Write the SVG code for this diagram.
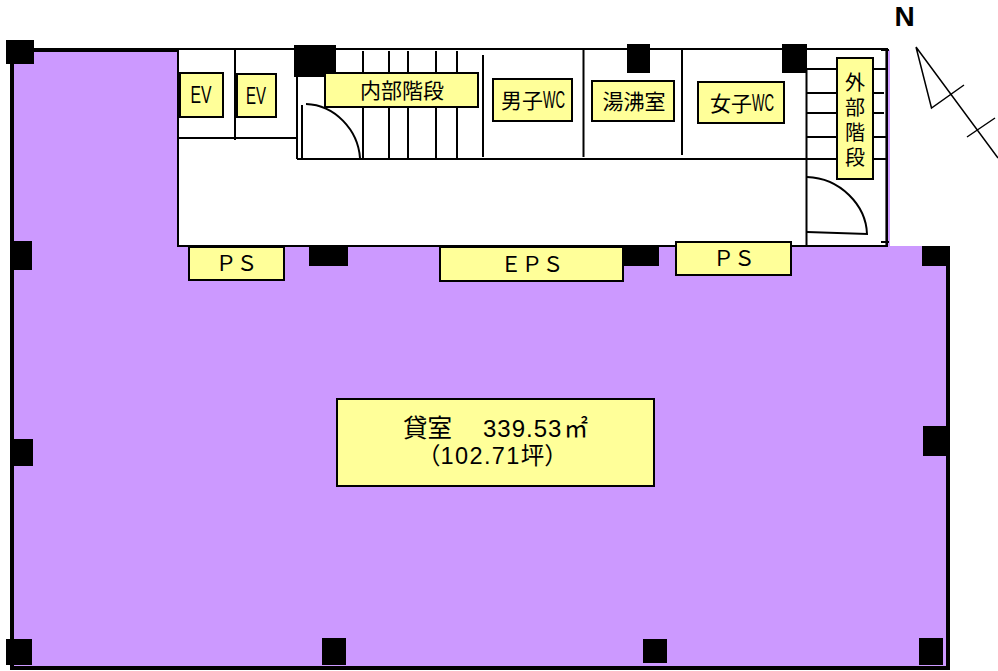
<svg xmlns="http://www.w3.org/2000/svg" width="998" height="671" viewBox="0 0 998 671">
<style>
.ln{fill:none;stroke:#000;stroke-width:2}
.th{fill:none;stroke:#000;stroke-width:1.5}
.col{fill:#000}
.lab{fill:#ffff99;stroke:#000;stroke-width:2}
text{font-family:"Liberation Sans","Noto Sans CJK JP",sans-serif;fill:#000;text-anchor:middle}
.s{text-anchor:start}
</style>
<rect width="998" height="671" fill="#fff"/>
<g id="floor">
<path d="M12 50H178V246H948V668H12Z" fill="#cc99ff"/>
<path d="M178 50H12V668H948V246" fill="none" stroke="#000" stroke-width="4"/>
<rect x="178" y="50" width="710" height="196" fill="#fff"/>
<path d="M889 50V246" stroke="#cc99ff" stroke-width="2"/>
</g>
<g id="connectors">
<path class="ln" d="M178 49H887V246H178Z"/>
<path d="M886.7 50V246" stroke="#000" stroke-width="2.6"/>
<path class="ln" d="M297 159H887M806.5 70V246M297 60V159M178 138H298M235 50V140M302 105V159"/>
<path class="ln" d="M363 51V159M389 51V159M408 51V159M436 51V159M457 51V159M483 55V157M583.5 50V157M682 50V155"/>
<path class="ln" d="M807 69H886M807 93H884M807 113H884M807 137H886"/>
<path class="ln" d="M306 104C335 105 358 130 360 158"/>
<path class="ln" d="M807 177C840 178 866 205 867 234L807 232"/>
<path class="ln" d="M881 50H889M881 242H889"/>
<path class="th" d="M916 47L998 158M916 47L931.5 108L964 85M967 137L995 118"/>
</g>
<g id="columns">
<rect class="col" x="6" y="40" width="28" height="24"/>
<rect class="col" x="10" y="241" width="22" height="29"/>
<rect class="col" x="10" y="439" width="23" height="27"/>
<rect class="col" x="6" y="639" width="26" height="26"/>
<rect class="col" x="322" y="638" width="24" height="27"/>
<rect class="col" x="643" y="639" width="24" height="24"/>
<rect class="col" x="919" y="638" width="24" height="27"/>
<rect class="col" x="923" y="426" width="25" height="30"/>
<rect class="col" x="922" y="246" width="27" height="20"/>
<rect class="col" x="294" y="45" width="42" height="32"/>
<rect class="col" x="309" y="246" width="39" height="20"/>
<rect class="col" x="623" y="246" width="36" height="20"/>
<rect class="col" x="627" y="44" width="23" height="29"/>
<rect class="col" x="782" y="44" width="25" height="29"/>
</g>
<g id="ev1"><rect class="lab" x="180" y="73" width="43" height="44"/><text x="201" y="103" font-size="24" textLength="21" lengthAdjust="spacingAndGlyphs">EV</text></g>
<g id="ev2"><rect class="lab" x="237" y="74" width="39" height="43"/><text x="256" y="104" font-size="24" textLength="20" lengthAdjust="spacingAndGlyphs">EV</text></g>
<g id="stairs-in"><rect class="lab" x="325" y="73" width="153" height="34"/><text x="402" y="98" font-size="21">内部階段</text></g>
<g id="wc-m"><rect class="lab" x="493" y="79" width="79" height="42"/><text class="s" x="501" y="108" font-size="21">男子<tspan font-size="24" textLength="22" lengthAdjust="spacingAndGlyphs">WC</tspan></text></g>
<g id="yu"><rect class="lab" x="592" y="81" width="82" height="40"/><text x="634" y="109" font-size="21">湯沸室</text></g>
<g id="wc-f"><rect class="lab" x="698" y="82" width="86" height="41"/><text class="s" x="710" y="111" font-size="21">女子<tspan font-size="24" textLength="22" lengthAdjust="spacingAndGlyphs">WC</tspan></text></g>
<g id="stairs-out"><rect class="lab" x="837" y="58" width="36" height="121"/>
<text x="855" y="90" font-size="20">外</text><text x="855" y="115" font-size="20">部</text><text x="855" y="140" font-size="20">階</text><text x="855" y="165" font-size="20">段</text></g>
<g id="ps1"><rect class="lab" x="189" y="247" width="95" height="33"/><text x="236.5" y="271" font-size="21">ＰＳ</text></g>
<g id="eps"><rect class="lab" x="440" y="247" width="183" height="34"/><text x="532" y="272" font-size="21">ＥＰＳ</text></g>
<g id="ps2"><rect class="lab" x="676" y="242" width="115" height="33"/><text x="734" y="266" font-size="21">ＰＳ</text></g>
<g id="room"><rect class="lab" x="337" y="399" width="317" height="87"/>
<text class="s" x="403" y="437" font-size="24.5">貸室<tspan x="483" font-size="24" letter-spacing="1">339.53</tspan><tspan x="564" font-size="24">㎡</tspan></text>
<text class="s" x="417" y="463.5" font-size="23.5">（<tspan letter-spacing="1.4">102.71</tspan>坪）</text></g>
<g id="north"><text x="904.5" y="26" font-size="28" font-weight="700">N</text></g>
</svg>
